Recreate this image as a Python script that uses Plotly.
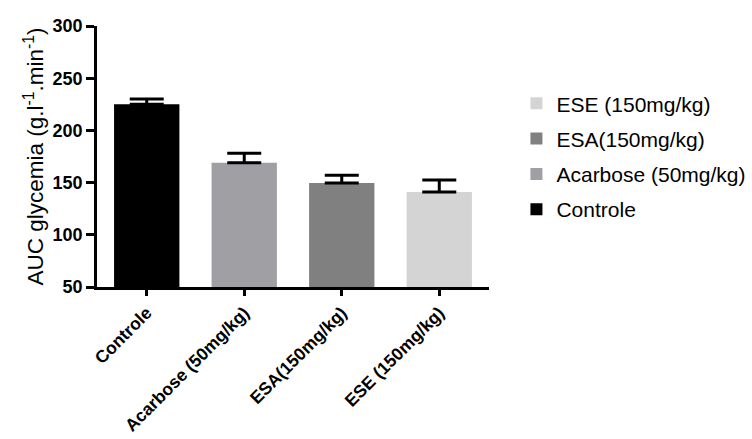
import plotly.graph_objects as go

categories = ["Controle", "Acarbose (50mg/kg)", "ESA(150mg/kg)", "ESE (150mg/kg)"]
values = [225, 169, 149.5, 141]
errors_up = [5, 9, 7.5, 11.5]
colors = ["#000000", "#a0a0a4", "#808080", "#d4d4d4"]
y_ticks = [50, 100, 150, 200, 250, 300]

FONT = "Liberation Sans, Arial, sans-serif"

fig = go.Figure()
# traces added in reverse so the legend lists ESE first (as in the reference)
for cat, val, err, col in reversed(list(zip(categories, values, errors_up, colors))):
    fig.add_trace(go.Bar(
        x=[cat], y=[val], name=cat, marker_color=col, marker_line_width=0,
        width=0.67, legendgroup=cat,
        error_y=dict(type="data", symmetric=False, array=[err], arrayminus=[0],
                     color="#000000", thickness=3, width=17),
    ))

fig.update_layout(
    width=752, height=439,
    margin=dict(l=97, r=263, t=26, b=152, autoexpand=False),
    paper_bgcolor="white", plot_bgcolor="white",
    barmode="overlay",
    font=dict(family=FONT, color="#000000"),
    showlegend=True,
    legend=dict(traceorder="grouped", tracegroupgap=5, x=1.07, xanchor="left",
                y=0.781, yanchor="top", font=dict(size=21, family=FONT),
                bgcolor="rgba(0,0,0,0)"),
)
fig.update_xaxes(
    categoryorder="array", categoryarray=categories,
    range=[-0.51, 3.51], automargin=False,
    showline=True, linecolor="#000000", linewidth=2.5,
    ticks="outside", ticklen=6, tickwidth=2.5, tickcolor="#000000",
    tickangle=-45, tickfont=dict(size=17.5, family=FONT, weight="bold"),
    showgrid=False, zeroline=False,
)
fig.update_yaxes(
    range=[50, 300], tickvals=y_ticks, automargin=False,
    showline=True, linecolor="#000000", linewidth=2.5,
    ticks="outside", ticklen=8, tickwidth=2.5, tickcolor="#000000",
    tickfont=dict(size=18, family=FONT, weight="bold"),
    showgrid=False, zeroline=False,
    title=dict(text="AUC glycemia (g.l<sup>-1</sup>.min<sup>-1</sup>)",
               font=dict(size=22.5, family=FONT), standoff=3),
)

fig.write_html("out.html", config={"displayModeBar": False},
               post_script="document.body.style.margin='0';")
